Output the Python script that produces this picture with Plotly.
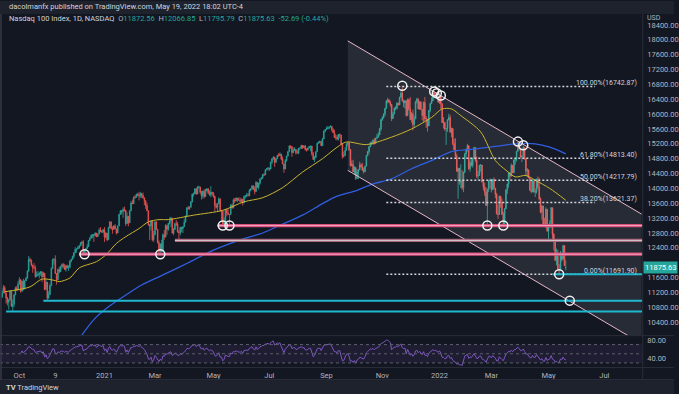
import numpy as np
import pandas as pd
import plotly.graph_objects as go

# ---------------- data ----------------
holidays = ["2020-11-26", "2020-12-25", "2021-01-01", "2021-01-18", "2021-02-15", "2021-04-02",
            "2021-05-31", "2021-07-05", "2021-09-06", "2021-11-25", "2021-12-24", "2022-01-17",
            "2022-02-21", "2022-04-15", "2022-05-30", "2022-06-20", "2022-07-04"]

first_open = 11080
legend_ohlc = [11872.56, 12066.85, 11795.79, 11875.63]

close_2020 = [
    11190, 11330, 11190, 11050, 10940, 11000, 11230, 10830, 10880, 11130, 11320, 11280, 11420,
    11540, 11230, 11500, 11290, 11510, 11580, 11770, 12090, 12060, 11940, 11880, 11850, 11630, 11660, 11690, 11720, 11760, 11620, 11720, 11280, 11480, 11050,
    11140, 11380, 11840, 12080, 12090, 11710, 11540, 11820, 11760, 11900, 11950, 11900, 11820, 11920, 11860, 11880, 12040, 12090, 12170, 12270,
    12360, 12370, 12400, 12460, 12530, 12560, 12270, 12340, 12380, 12430, 12600, 12660, 12740, 12760, 12730, 12800, 12700, 12770, 12880, 12850, 12830, 12890]
high_2020 = [
    11260, 11400, 11380, 11140, 11080, 11020, 11260, 11220, 11010, 11160, 11360, 11370, 11500,
    11610, 11560, 11520, 11570, 11540, 11620, 11800, 12180, 12140, 12090, 11920, 11990, 11930, 11760, 11780, 11740, 11770, 11760, 11750, 11560, 11570, 11380,
    11230, 11440, 11880, 12110, 12130, 12200, 11720, 11840, 11890, 11920, 11980, 11990, 11970, 11940, 11950, 11930, 12070, 12110, 12190, 12290,
    12420, 12380, 12450, 12470, 12550, 12580, 12610, 12350, 12390, 12500, 12610, 12690, 12760, 12770, 12750, 12820, 12800, 12790, 12930, 12960, 12880, 12910]
low_2020 = [
    11050, 11180, 11170, 10900, 10850, 10740, 11010, 10810, 10690, 10800, 11210, 11240, 11250,
    11450, 11190, 11250, 11260, 11320, 11510, 11600, 11820, 12010, 11900, 11730, 11840, 11590, 11630, 11640, 11580, 11650, 11480, 11620, 11260, 11340, 10980,
    11030, 11180, 11600, 11980, 11950, 11700, 11410, 11640, 11710, 11750, 11830, 11860, 11810, 11760, 11850, 11780, 11850, 12010, 12100, 12120,
    12320, 12270, 12370, 12380, 12440, 12470, 12230, 12220, 12260, 12390, 12470, 12590, 12700, 12660, 12560, 12710, 12690, 12710, 12800, 12820, 12800, 12790]

close_2021 = [
    12690, 12800, 12620, 12940, 13100, 12920, 12900, 12990, 12910, 12800, 12990, 13300, 13400, 13370, 13440, 13410, 13050, 13250, 13070,
    13400, 13610, 13590, 13770, 13760, 13840, 13830, 13800, 13860, 13810, 13750, 13670, 13540, 13400, 13020, 12990, 13120, 12620, 12750,
    13100, 12900, 12540, 12300, 12500, 12300, 12750, 12690, 13000, 12900, 13060, 13120, 13200, 12800, 12900, 13050, 13040, 12830, 12810, 12950, 12920, 12970, 13090,
    13250, 13480, 13460, 13490, 13640, 13850, 13850, 13990, 13850, 14040, 14040, 13900, 13800, 13930, 13780, 13930, 13990, 13880, 13830, 13900, 13860,
    13790, 13540, 13490, 13590, 13720, 13400, 13390, 13030, 13130, 13430, 13340, 13300, 13300, 13550, 13470, 13690, 13660, 13740, 13690, 13690,
    13650, 13710, 13610, 13780, 13810, 13820, 13800, 13950, 13990, 14070, 13980, 13920, 14160, 14030, 14140, 14250, 14270, 14370, 14360, 14500, 14530, 14550,
    14520, 14710, 14800, 14840, 14700, 14800, 14890, 14880, 14920, 14790, 14660, 14520, 14750, 14870, 14990, 15140, 15130, 14960, 15030, 15050, 14960,
    14960, 15080, 15080, 15160, 15100, 15140, 15050, 15040, 15090, 15130, 15140, 14930, 14780, 14830, 14990, 15210, 15230, 15260, 15150, 15330, 15540, 15580,
    15610, 15620, 15650, 15670, 15580, 15500, 15370, 15380, 15330, 15450, 15440, 15190, 14860, 14880, 15020, 15200, 15230, 15050, 14610, 14650, 14450,
    14560, 14260, 14440, 14500, 14630, 14580, 14490, 14450, 14600, 14880, 14990, 15120, 15230, 15200, 15300, 15210, 15350, 15380, 15440, 15600, 15850,
    15910, 16000, 16150, 16350, 16380, 16320, 16260, 15880, 16000, 16160, 16150, 16290, 16250, 16450, 16570, 16360, 16300, 16360, 15960, 16390, 16140,
    15850, 16010, 15720, 15870, 16330, 16400, 16140, 16330, 16130, 15960, 16310, 15870, 15870, 15680, 16100, 16280, 16350, 16570, 16490, 16510, 16450, 16320]
high_2021 = [
    12960, 12820, 12760, 12970, 13120, 13030, 12980, 13010, 13040, 12920, 13000, 13320, 13420, 13410, 13490, 13510, 13320, 13360, 13220,
    13420, 13660, 13700, 13780, 13820, 13860, 13880, 13910, 13900, 13880, 13890, 13700, 13620, 13610, 13350, 13040, 13140, 13080, 12860,
    13110, 13110, 12880, 12600, 12530, 12620, 12790, 12880, 13040, 12920, 13070, 13220, 13240, 13100, 12930, 13080, 13150, 13100, 12880, 12970, 12960, 12990, 13170,
    13270, 13500, 13530, 13520, 13660, 13860, 13890, 14000, 14010, 14060, 14070, 14040, 13930, 13940, 13980, 13990, 14000, 14010, 13950, 14060, 13900,
    13900, 13740, 13610, 13600, 13760, 13700, 13420, 13290, 13220, 13440, 13400, 13450, 13310, 13580, 13590, 13730, 13740, 13760, 13740, 13760,
    13760, 13730, 13650, 13810, 13820, 13880, 13870, 13980, 14000, 14080, 14080, 14050, 14200, 14170, 14150, 14280, 14310, 14390, 14410, 14510, 14550, 14570,
    14560, 14720, 14810, 14870, 14760, 14820, 14900, 14950, 14970, 14930, 14860, 14600, 14790, 14880, 15010, 15160, 15160, 15120, 15100, 15110, 15020,
    15040, 15090, 15110, 15170, 15150, 15160, 15170, 15080, 15100, 15140, 15150, 15080, 14980, 14870, 15000, 15240, 15270, 15290, 15280, 15360, 15560, 15600,
    15660, 15680, 15670, 15700, 15680, 15620, 15580, 15460, 15440, 15460, 15480, 15430, 15080, 14990, 15110, 15220, 15250, 15180, 14970, 14750, 14770,
    14600, 14570, 14520, 14510, 14720, 14680, 14680, 14560, 14610, 14900, 15010, 15140, 15250, 15270, 15320, 15360, 15370, 15470, 15510, 15630, 15870,
    15940, 16020, 16170, 16380, 16440, 16410, 16360, 16210, 16060, 16180, 16220, 16320, 16310, 16470, 16610, 16765, 16390, 16380, 16280, 16420, 16420,
    16460, 16060, 16120, 15950, 16360, 16440, 16430, 16350, 16340, 16120, 16340, 16460, 15950, 15770, 16110, 16300, 16450, 16600, 16620, 16580, 16580, 16500]
low_2021 = [
    12560, 12650, 12580, 12680, 12930, 12890, 12780, 12880, 12900, 12760, 12870, 13060, 13320, 13300, 13210, 13380, 12990, 13100, 12980,
    13130, 13470, 13580, 13600, 13720, 13770, 13790, 13680, 13740, 13740, 13720, 13550, 13450, 13390, 13000, 12610, 12870, 12580, 12560,
    12860, 12890, 12520, 12240, 12225, 12290, 12500, 12620, 12850, 12750, 12860, 13030, 12960, 12780, 12740, 12880, 12990, 12810, 12620, 12740, 12820, 12800, 12960,
    13170, 13310, 13430, 13420, 13560, 13620, 13780, 13870, 13830, 13930, 13990, 13850, 13700, 13730, 13730, 13800, 13930, 13850, 13800, 13760, 13790,
    13750, 13380, 13460, 13380, 13620, 13380, 13090, 12990, 13010, 13180, 13250, 13290, 12990, 13310, 13460, 13530, 13610, 13680, 13630, 13670,
    13610, 13620, 13540, 13620, 13730, 13760, 13790, 13800, 13920, 13960, 13960, 13840, 13900, 14010, 13970, 14100, 14240, 14300, 14330, 14380, 14490, 14480,
    14470, 14550, 14650, 14770, 14580, 14690, 14790, 14860, 14870, 14760, 14650, 14420, 14540, 14720, 14860, 15010, 15070, 14850, 14980, 15010, 14910,
    14930, 14920, 15040, 15070, 15060, 15090, 15020, 14990, 15010, 15080, 15000, 14880, 14770, 14710, 14830, 15040, 15210, 15220, 15140, 15140, 15360, 15510,
    15580, 15590, 15590, 15640, 15530, 15490, 15360, 15300, 15290, 15290, 15360, 15160, 14800, 14830, 14880, 15060, 15130, 15010, 14590, 14600, 14440,
    14360, 14230, 14280, 14250, 14580, 14560, 14480, 14400, 14460, 14690, 14910, 14920, 15130, 15160, 15180, 15180, 15220, 15340, 15400, 15480, 15550,
    15820, 15880, 15940, 16180, 16290, 16300, 16200, 15810, 15930, 16000, 16100, 16130, 16230, 16270, 16460, 16340, 16180, 16150, 15930, 16100, 16090,
    15840, 15770, 15560, 15650, 16110, 16280, 16130, 16110, 16110, 15830, 15790, 15810, 15630, 15530, 15820, 16050, 16290, 16410, 16470, 16430, 16440, 16310]

close_2022 = [
    16500, 16280, 15770, 15770, 15600, 15610, 15850, 15910, 15520, 15610, 15200, 15040, 14870, 14460, 14540, 14180, 14200, 14020, 14440, 14930,
    15050, 15150, 14530, 14700, 14620, 14800, 15100, 14760, 14330, 14350, 14620, 14630, 14170, 14040, 13900, 13540, 13970, 14200, 14230,
    13970, 14240, 14010, 13840, 13320, 13300, 13790, 13630, 13300, 13050, 13450, 13960, 14120, 14420, 14330, 14620, 14420, 14770, 14780, 15000, 15240, 15070, 14840,
    14860, 15100, 14800, 14470, 14500, 14290, 13950, 13910, 14200, 13900, 13910, 14240, 14030, 13720, 13360, 13530, 13020, 12990, 13440, 12850,
    13010, 13060, 13480, 12770, 12620, 12070, 12180, 11820, 11800, 12260, 12090, 12460, 11928.32, 11875.63]
high_2022 = [
    16580, 16510, 16260, 15920, 15800, 15630, 15860, 16010, 15980, 15640, 15620, 15340, 15350, 14930, 14560, 14550, 14650, 14500, 14450, 14950,
    15070, 15200, 14920, 14830, 14790, 14830, 15120, 15000, 14860, 14470, 14640, 14660, 14570, 14240, 14150, 14030, 14000, 14220, 14270,
    14230, 14260, 14300, 14000, 13880, 13560, 13810, 13740, 13730, 13370, 13470, 13980, 14130, 14430, 14440, 14670, 14630, 14780, 14820, 15010, 15260, 15230, 15090,
    14900, 15160, 15090, 14650, 14550, 14480, 14210, 14230, 14240, 14220, 14000, 14270, 14320, 14290, 13760, 13550, 13460, 13210, 13490, 13290,
    13030, 13150, 13500, 13300, 12790, 12500, 12380, 12350, 11960, 12320, 12230, 12480, 12370, 12066.85]
low_2022 = [
    16270, 16140, 15760, 15610, 15550, 15170, 15520, 15830, 15490, 15380, 15160, 15030, 14830, 14450, 13720, 14100, 14010, 13960, 13900, 14410,
    14830, 14990, 14500, 14450, 14590, 14560, 14960, 14710, 14280, 14220, 14450, 14450, 14160, 13950, 13800, 13530, 13010, 13900, 14000,
    13890, 13950, 13960, 13740, 13300, 13180, 13550, 13480, 13290, 13010, 13080, 13520, 13850, 14020, 14230, 14340, 14410, 14450, 14640, 14720, 15050, 15030, 14830,
    14710, 14840, 14770, 14330, 14300, 14270, 13940, 13870, 13900, 13890, 13770, 13860, 13980, 13680, 13330, 13160, 13010, 12960, 12930, 12840,
    12630, 12930, 12930, 12650, 12330, 12040, 11930, 11790, 11692, 11930, 12030, 12290, 11910, 11795.79]

# moving averages
ma50_dates = ["2020-09-16", "2020-10-13", "2020-10-26", "2020-11-09", "2020-11-12", "2020-11-24", "2020-12-04",
              "2020-12-23", "2021-01-05", "2021-01-15", "2021-01-27", "2021-02-10", "2021-02-22", "2021-03-04",
              "2021-03-15", "2021-04-12", "2021-05-12", "2021-06-04", "2021-06-24", "2021-07-16", "2021-08-06",
              "2021-08-27", "2021-09-14", "2021-09-23", "2021-10-14", "2021-11-10", "2021-12-02", "2021-12-23",
              "2022-01-05", "2022-01-14", "2022-01-26", "2022-02-16", "2022-03-04", "2022-03-16", "2022-03-25",
              "2022-04-06", "2022-04-18", "2022-05-03", "2022-05-19"]
ma50_vals = [11220, 11350, 11560, 11520, 11490, 11590, 11860, 12030, 12210, 12520, 12700, 12920, 13100, 13160,
             13160, 13280, 13410, 13640, 13750, 14020, 14440, 14800, 15110, 15250, 15180, 15380, 15600, 15910,
             16140, 16140, 15960, 15520, 14750, 14490, 14310, 14350, 14220, 14000, 13680]
ma200_dates = ["2020-12-04", "2020-12-21", "2021-01-08", "2021-01-27", "2021-02-12", "2021-03-04", "2021-03-15",
               "2021-04-06", "2021-05-03", "2021-06-04", "2021-06-24", "2021-07-16", "2021-08-06", "2021-08-27",
               "2021-09-14", "2021-10-05", "2021-10-20", "2021-11-10", "2021-12-02", "2021-12-23", "2022-01-14",
               "2022-02-07", "2022-03-04", "2022-03-25", "2022-04-18", "2022-05-03", "2022-05-19"]
ma200_vals = [9950, 10470, 10840, 11130, 11400, 11620, 11740, 12000, 12340, 12650, 12800, 13040, 13280, 13590,
              13790, 13950, 14110, 14260, 14530, 14750, 14990, 15050, 15130, 15200, 15200, 15110, 14930]

# drawings
channel_dates = ["2021-09-24", "2022-08-11"]
channel_top = [17971, 13309]
channel_bottom = [14486, 9824]

fib_levels = [16742.87, 14813.40, 14217.79, 13621.37, 11691.90]
fib_labels = ["100.00%(16742.87)", "61.80%(14813.40)", "50.00%(14217.79)", "38.20%(13621.37)", "0.00%(11691.90)"]
fib_span = ["2021-11-04", "2022-06-22"]

pink_levels = [13000, 12230]
pink_starts = ["2021-05-06", "2020-12-04"]
grey_level = 12600
grey_start = "2021-03-22"
cyan_levels = [10980, 10690, 11691.90]
cyan_starts = ["2020-10-27", "2020-09-17", "2022-05-05"]
line_end = "2022-09-30"

circle_dates = ["2020-12-10", "2021-03-05", "2021-05-12", "2021-05-19", "2021-11-22", "2021-12-28", "2021-12-30",
                "2022-01-04", "2022-02-24", "2022-03-14", "2022-03-29", "2022-04-04", "2022-05-12", "2022-05-24"]
circle_vals = [12230, 12230, 13000, 13000, 16765, 16610, 16560, 16500, 13000, 13000, 15260, 15160, 11692, 10980]

# price-axis labels visible in the chart (12000 is hidden behind the last-price tag)
price_ticks = [18400, 18000, 17600, 17200, 16800, 16400, 16000, 15600, 15200, 14800, 14400, 14000,
               13600, 13200, 12800, 12400, 11600, 11200, 10800, 10400]

tick_dates = ["2020-10-01", "2020-11-09", "2021-01-04", "2021-03-01", "2021-05-03", "2021-07-01", "2021-09-01",
              "2021-11-01", "2022-01-03", "2022-03-01", "2022-05-02", "2022-07-01"]
tick_text = ["Oct", "9", "2021", "Mar", "May", "Jul", "Sep", "Nov", "2022", "Mar", "May", "Jul"]

# ---------------- build ----------------
closes = close_2020 + close_2021 + close_2022
highs = high_2020 + high_2021 + high_2022
lows = low_2020 + low_2021 + low_2022
opens = [first_open] + closes[:-1]
opens[-1] = legend_ohlc[0]
highs = [max(h, o, c) for h, o, c in zip(highs, opens, closes)]
lows = [min(l, o, c) for l, o, c in zip(lows, opens, closes)]

all_days = pd.bdate_range("2020-09-14", "2022-05-19")
dates = [d for d in all_days if d.strftime("%Y-%m-%d") not in holidays]
if len(dates) != len(closes) or len(highs) != len(closes) or len(lows) != len(closes):
    raise SystemExit(f"length mismatch {len(dates)} {len(closes)} {len(highs)} {len(lows)}")


def rsi(vals, n=14):
    v = np.asarray(vals, float)
    d = np.diff(v)
    g = np.where(d > 0, d, 0.0)
    lo = np.where(d < 0, -d, 0.0)
    out = np.full(len(v), np.nan)
    ag, al = g[:n].mean(), lo[:n].mean()
    out[n] = 100 - 100 / (1 + ag / al)
    for i in range(n + 1, len(v)):
        ag = (ag * (n - 1) + g[i - 1]) / n
        al = (al * (n - 1) + lo[i - 1]) / n
        out[i] = 100 - 100 / (1 + ag / al)
    return out


rsi_vals = rsi(closes)

BG = "#131722"
UP = "#26a69a"
DN = "#ef5350"
TXT = "#b2b5be"
FONT = "Roboto, 'Liberation Sans', sans-serif"
W, H = 679, 394
XR = 647 / W


def py(px):
    return 1 - px / H


fig = go.Figure()

# channel fill
fig.add_trace(go.Scatter(
    x=[channel_dates[0], channel_dates[1], channel_dates[1], channel_dates[0], channel_dates[0]],
    y=[channel_top[0], channel_top[1], channel_bottom[1], channel_bottom[0], channel_top[0]],
    mode="lines", fill="toself", fillcolor="rgba(255,255,255,0.085)", line=dict(width=0),
    hoverinfo="skip", showlegend=False))

# candles
fig.add_trace(go.Candlestick(
    x=dates, open=opens, high=highs, low=lows, close=closes,
    increasing=dict(line=dict(color=UP, width=0.8), fillcolor=UP),
    decreasing=dict(line=dict(color=DN, width=0.8), fillcolor=DN),
    whiskerwidth=0, showlegend=False, hoverinfo="skip"))

# moving averages
fig.add_trace(go.Scatter(x=ma200_dates, y=ma200_vals, mode="lines",
                         line=dict(color="#2f5fe0", width=1.3, shape="spline", smoothing=0.8),
                         hoverinfo="skip", showlegend=False))
fig.add_trace(go.Scatter(x=ma50_dates, y=ma50_vals, mode="lines",
                         line=dict(color="#c9b52c", width=1, shape="spline", smoothing=0.8),
                         hoverinfo="skip", showlegend=False))

# channel borders
for ys in (channel_top, channel_bottom):
    fig.add_trace(go.Scatter(x=channel_dates, y=ys, mode="lines", line=dict(color="#e8b7c8", width=1),
                             hoverinfo="skip", showlegend=False))

# fib dotted lines
for lv in fib_levels:
    fig.add_trace(go.Scatter(x=fib_span, y=[lv, lv], mode="lines",
                             line=dict(color="#d1d4dc", width=1.5, dash="2px,2px"),
                             hoverinfo="skip", showlegend=False))

# horizontal levels
fig.add_trace(go.Scatter(x=[grey_start, line_end], y=[grey_level, grey_level], mode="lines",
                         line=dict(color="#a8687e", width=3.2), hoverinfo="skip", showlegend=False))
fig.add_trace(go.Scatter(x=[grey_start, line_end], y=[grey_level, grey_level], mode="lines",
                         line=dict(color="#cfc7cb", width=1), hoverinfo="skip", showlegend=False))
for lv, st in zip(pink_levels, pink_starts):
    fig.add_trace(go.Scatter(x=[st, line_end], y=[lv, lv], mode="lines",
                             line=dict(color="#d9507c", width=3.2), hoverinfo="skip", showlegend=False))
    fig.add_trace(go.Scatter(x=[st, line_end], y=[lv, lv], mode="lines",
                             line=dict(color="#f3a6c1", width=1), hoverinfo="skip", showlegend=False))
for lv, st in zip(cyan_levels, cyan_starts):
    fig.add_trace(go.Scatter(x=[st, line_end], y=[lv, lv], mode="lines",
                             line=dict(color="#1fb8cf", width=2), hoverinfo="skip", showlegend=False))

# circles
fig.add_trace(go.Scatter(x=circle_dates, y=circle_vals, mode="markers",
                         marker=dict(symbol="circle-open", size=9, color="#f0f0f0", line=dict(width=1.5)),
                         hoverinfo="skip", showlegend=False))

# RSI
fig.add_trace(go.Scatter(x=dates, y=rsi_vals, mode="lines", xaxis="x2", yaxis="y2",
                         line=dict(color="#7e57c2", width=1), hoverinfo="skip", showlegend=False))

rb = [dict(bounds=["sat", "mon"]), dict(values=holidays)]
xrange = ["2020-09-10 10:00", "2022-08-11 12:00"]

fig.update_layout(
    width=W, height=H, autosize=False, margin=dict(l=0, r=0, t=0, b=0),
    paper_bgcolor=BG, plot_bgcolor=BG, font=dict(family=FONT, size=7.5, color=TXT),
    xaxis=dict(domain=[0, XR], range=xrange, rangebreaks=rb, anchor="y", showticklabels=False,
               showgrid=False, zeroline=False, showline=False, rangeslider=dict(visible=False), fixedrange=True),
    yaxis=dict(domain=[py(335), py(13)], range=[10051, 18695], side="right", anchor="x",
               tickvals=price_ticks, tickformat=".2f", showgrid=False, zeroline=False, ticks="",
               tickfont=dict(size=7.5, color=TXT), ticklabelstandoff=4),
    xaxis2=dict(domain=[0, XR], range=xrange, rangebreaks=rb, anchor="y2", matches="x",
                tickvals=tick_dates, ticktext=tick_text, showgrid=False, zeroline=False, ticks="",
                tickfont=dict(size=7.5, color=TXT), ticklabelstandoff=2),
    yaxis2=dict(domain=[py(367), py(336)], range=[21, 88.4], side="right", anchor="x2",
                tickvals=[80, 40], ticktext=["80.00", "40.00"], showgrid=False, zeroline=False, ticks="",
                tickfont=dict(size=7.5, color=TXT), ticklabelstandoff=4),
)

shapes = [
    dict(type="rect", xref="paper", yref="paper", x0=0, x1=1, y0=py(13), y1=1, fillcolor="#1e222d",
         line=dict(width=0), layer="below"),
    dict(type="rect", xref="paper", yref="paper", x0=0, x1=1, y0=0, y1=py(380), fillcolor="#1e222d",
         line=dict(width=0), layer="below"),
    # RSI band and guides
    dict(type="rect", xref="x2 domain", yref="y2", x0=0, x1=1, y0=30, y1=70,
         fillcolor="rgba(126,87,194,0.10)", line=dict(width=0), layer="below"),
]
for lv in (70, 50, 30):
    shapes.append(dict(type="line", xref="x2 domain", yref="y2", x0=0, x1=1, y0=lv, y1=lv,
                       line=dict(color="#5d606b", width=1, dash="3px,3px")))
for ypx in (335.5, 367.5, 379.5):
    shapes.append(dict(type="line", xref="paper", yref="paper", x0=0, x1=1, y0=py(ypx), y1=py(ypx),
                       line=dict(color="#2a2e39", width=1)))
shapes.append(dict(type="line", xref="paper", yref="paper", x0=XR + 0.5 / W, x1=XR + 0.5 / W,
                   y0=py(380), y1=py(13), line=dict(color="#2a2e39", width=1)))
shapes.append(dict(type="line", xref="paper", yref="paper", x0=1 / W, x1=1 / W,
                   y0=py(380), y1=py(13), line=dict(color="#363a45", width=1.5)))
fig.update_layout(shapes=shapes)

ann = []
ann.append(dict(xref="paper", yref="paper", x=7 / W, y=py(6), xanchor="left", yanchor="middle",
                text="dacolmanfx published on TradingView.com, May 19, 2022 18:02 UTC-4",
                showarrow=False, font=dict(size=7.5, color="#d1d4dc")))
o, h, l, c = legend_ohlc
prev_close = closes[-2]
chg = c - prev_close
pct = chg / prev_close * 100
sp = "&nbsp;"
legend_txt = (f'<span style="color:#d1d4dc">Nasdaq 100 Index, 1D, NASDAQ</span>{sp}{sp}'
              f'O<span style="color:{UP}">{o:.2f}</span>{sp}{sp}'
              f'H<span style="color:{UP}">{h:.2f}</span>{sp}{sp}'
              f'L<span style="color:{UP}">{l:.2f}</span>{sp}{sp}'
              f'C<span style="color:{UP}">{c:.2f}</span>{sp}{sp}'
              f'<span style="color:{UP}">{chg:+.2f} ({pct:+.2f}%)</span>')
ann.append(dict(xref="paper", yref="paper", x=7 / W, y=py(18), xanchor="left", yanchor="middle",
                text=legend_txt, showarrow=False, font=dict(size=7.5, color=TXT)))
ann.append(dict(xref="paper", yref="paper", x=650 / W, y=py(17), xanchor="left", yanchor="middle",
                text="USD", showarrow=False, font=dict(size=7, color=TXT)))
for lv, lab in zip(fib_levels, fib_labels):
    ann.append(dict(xref="paper", yref="y", x=644 / W, y=lv, xanchor="right", yanchor="middle", yshift=3,
                    text=lab, showarrow=False, font=dict(size=7, color="#d1d4dc")))
ann.append(dict(xref="paper", yref="y", x=648 / W, y=c, xanchor="left", yanchor="middle",
                text=f"{c:.2f}", showarrow=False, bgcolor=UP, borderpad=1,
                font=dict(size=7.5, color="#ffffff")))
ann.append(dict(xref="paper", yref="paper", x=4 / W, y=py(387), xanchor="left", yanchor="middle",
                text="<b>TV</b> TradingView", showarrow=False, font=dict(size=7.5, color="#d1d4dc")))
fig.update_layout(annotations=ann)

fig.write_html("out.html", config={"displayModeBar": False, "staticPlot": True},
               post_script="document.body.style.margin='0';document.body.style.overflow='hidden';")
